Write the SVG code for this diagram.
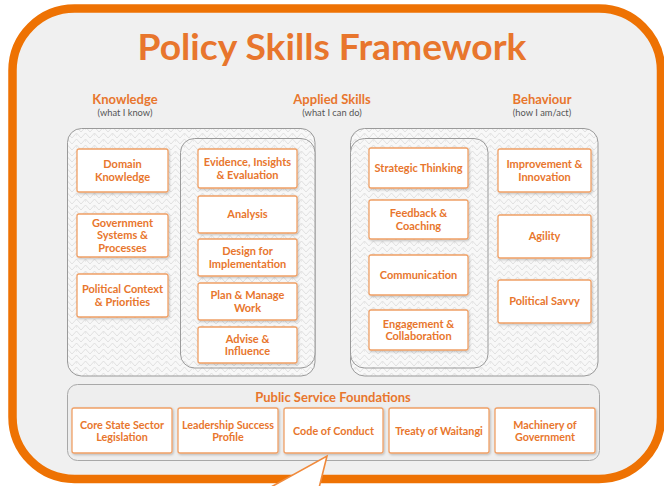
<svg xmlns="http://www.w3.org/2000/svg" width="664" height="486" viewBox="0 0 664 486">
  <defs>
    <pattern id="weave" width="18" height="12" patternUnits="userSpaceOnUse">
      <rect width="18" height="12" fill="#f8f8f8"/>
      <path d="M0 6 L4.5 1 L9 6 L13.5 1 L18 6 M0 12 L4.5 7 L9 12 L13.5 7 L18 12" fill="none" stroke="#d6d6d6" stroke-width="0.7"/>
      <path d="M4.5 1 L4.5 4 M13.5 7 L13.5 10" stroke="#e2e2e2" stroke-width="0.6"/>
    </pattern>
    <filter id="sh" x="-10%" y="-10%" width="125%" height="130%">
      <feDropShadow dx="1" dy="1.2" stdDeviation="1" flood-color="#000" flood-opacity="0.22"/>
    </filter>
  </defs>
  <style>
    .title{font-family:Lato,"Liberation Sans",sans-serif;font-weight:bold;font-size:36px;fill:#E8762D;text-anchor:middle}
    .hd{font-family:Lato,"Liberation Sans",sans-serif;font-weight:bold;font-size:13px;fill:#E8762D;text-anchor:middle}
    .sub{font-family:Lato,"Liberation Sans",sans-serif;font-size:9.3px;fill:#555;text-anchor:middle}
    .cont{fill:url(#weave);stroke:#9a9a9a;stroke-width:1}
    .box{fill:#fff;stroke:#F0A066;stroke-width:1.3;filter:url(#sh)}
    .bt{font-family:Lato,"Liberation Sans",sans-serif;font-weight:bold;font-size:11px;fill:#E8762D;text-anchor:middle}
    .ft{font-family:Lato,"Liberation Sans",sans-serif;font-weight:bold;font-size:10.8px;fill:#E8762D;text-anchor:middle}
  </style>

  <!-- speech bubble -->
  <g id="bubble">
    <rect x="12.5" y="8.5" width="648.5" height="470.5" rx="62" ry="62" fill="#f0f0f0" stroke="#EE7203" stroke-width="8.5"/>
  </g>

  <text class="title" x="332" y="60" textLength="389" lengthAdjust="spacingAndGlyphs">Policy Skills Framework</text>

  <g id="headers">
    <text class="hd" x="125" y="104">Knowledge</text>
    <text class="sub" x="125" y="116">(what I know)</text>
    <text class="hd" x="332" y="104">Applied Skills</text>
    <text class="sub" x="332" y="116">(what I can do)</text>
    <text class="hd" x="542" y="104">Behaviour</text>
    <text class="sub" x="542" y="116">(how I am/act)</text>
  </g>

  <g id="containers">
    <rect class="cont" x="67.5" y="128.5" width="247.5" height="247.5" rx="14"/>
    <rect class="cont" x="180.5" y="138.5" width="134.5" height="229.5" rx="14"/>
    <rect class="cont" x="350.5" y="128.5" width="247.5" height="247.5" rx="14"/>
    <rect class="cont" x="350.5" y="138.5" width="137.5" height="229.5" rx="14"/>
  </g>

  <g id="knowledge">
    <g id="domain-knowledge"><rect class="box" x="77" y="149" width="91" height="43" rx="2"/><text class="bt" x="122.5" y="168">Domain</text><text class="bt" x="122.5" y="180.8">Knowledge</text></g>
    <g id="government-systems"><rect class="box" x="77" y="214" width="91" height="43" rx="2"/><text class="bt" x="122.5" y="226.7">Government</text><text class="bt" x="122.5" y="239.4">Systems &amp;</text><text class="bt" x="122.5" y="252.1">Processes</text></g>
    <g id="political-context"><rect class="box" x="77" y="274" width="91" height="43" rx="2"/><text class="bt" x="122.5" y="293">Political Context</text><text class="bt" x="122.5" y="305.8">&amp; Priorities</text></g>
  </g>

  <g id="applied-left">
    <g id="evidence"><rect class="box" x="198" y="149" width="99" height="39" rx="2"/><text class="bt" x="247.5" y="166">Evidence, Insights</text><text class="bt" x="247.5" y="178.8">&amp; Evaluation</text></g>
    <g id="analysis"><rect class="box" x="198" y="196" width="99" height="37" rx="2"/><text class="bt" x="247.5" y="218.3">Analysis</text></g>
    <g id="design"><rect class="box" x="198" y="239" width="99" height="37" rx="2"/><text class="bt" x="247.5" y="255">Design for</text><text class="bt" x="247.5" y="267.8">Implementation</text></g>
    <g id="plan-manage"><rect class="box" x="198" y="283" width="99" height="37" rx="2"/><text class="bt" x="247.5" y="299">Plan &amp; Manage</text><text class="bt" x="247.5" y="311.8">Work</text></g>
    <g id="advise"><rect class="box" x="198" y="327" width="99" height="36" rx="2"/><text class="bt" x="247.5" y="342.5">Advise &amp;</text><text class="bt" x="247.5" y="355.3">Influence</text></g>
  </g>

  <g id="applied-right">
    <g id="strategic"><rect class="box" x="369" y="148" width="99" height="40" rx="2"/><text class="bt" x="418.5" y="172">Strategic Thinking</text></g>
    <g id="feedback"><rect class="box" x="369" y="200" width="99" height="39" rx="2"/><text class="bt" x="418.5" y="217">Feedback &amp;</text><text class="bt" x="418.5" y="229.8">Coaching</text></g>
    <g id="communication"><rect class="box" x="369" y="255" width="99" height="40" rx="2"/><text class="bt" x="418.5" y="279">Communication</text></g>
    <g id="engagement"><rect class="box" x="369" y="310" width="99" height="40" rx="2"/><text class="bt" x="418.5" y="327.5">Engagement &amp;</text><text class="bt" x="418.5" y="340.3">Collaboration</text></g>
  </g>

  <g id="behaviour">
    <g id="improvement"><rect class="box" x="498" y="149" width="93" height="43" rx="2"/><text class="bt" x="544.5" y="168">Improvement &amp;</text><text class="bt" x="544.5" y="180.8">Innovation</text></g>
    <g id="agility"><rect class="box" x="498" y="215" width="93" height="43" rx="2"/><text class="bt" x="544.5" y="240.3">Agility</text></g>
    <g id="political-savvy"><rect class="box" x="498" y="280" width="93" height="43" rx="2"/><text class="bt" x="544.5" y="305.3">Political Savvy</text></g>
  </g>

  <g id="foundations">
    <rect x="67.5" y="384.5" width="532" height="76" rx="10" fill="#eeeeee" stroke="#a8a8a8" stroke-width="1"/>
    <text class="hd" x="333" y="402">Public Service Foundations</text>
    <g id="core-state"><rect class="box" x="72" y="408" width="100" height="45" rx="2"/><text class="ft" x="122" y="428.5">Core State Sector</text><text class="ft" x="122" y="441.2">Legislation</text></g>
    <g id="leadership"><rect class="box" x="178" y="408" width="100" height="45" rx="2"/><text class="ft" x="228" y="428.5">Leadership Success</text><text class="ft" x="228" y="441.2">Profile</text></g>
    <g id="code-of-conduct"><rect class="box" x="284" y="408" width="99" height="45" rx="2"/><text class="ft" x="333.5" y="434.7">Code of Conduct</text></g>
    <g id="treaty"><rect class="box" x="389" y="408" width="100" height="45" rx="2"/><text class="ft" x="439" y="434.7">Treaty of Waitangi</text></g>
    <g id="machinery"><rect class="box" x="495" y="408" width="100" height="45" rx="2"/><text class="ft" x="545" y="428.5">Machinery of</text><text class="ft" x="545" y="441.2">Government</text></g>
  </g>

  <g id="connectors">
    <path d="M262 492 L327 456 L318 492" fill="#ffffff" stroke="#F08A3C" stroke-width="1.6" stroke-linejoin="miter"/>
  </g>
</svg>
